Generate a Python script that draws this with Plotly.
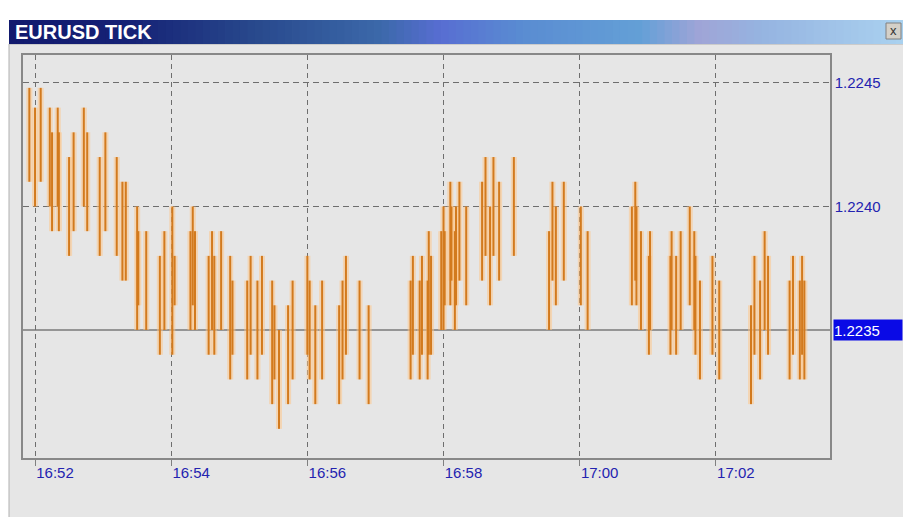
import plotly.graph_objects as go

# ---------------- data ----------------
DATE = "2005-01-05"
tick_times = [
    "16:51:55", "16:52:00", "16:52:05", "16:52:13", "16:52:15", "16:52:20", "16:52:21", "16:52:30",
    "16:52:34", "16:52:43", "16:52:46", "16:52:57", "16:53:02", "16:53:12", "16:53:17", "16:53:20",
    "16:53:30", "16:53:31", "16:53:38", "16:53:50", "16:53:54", "16:54:01", "16:54:03", "16:54:17",
    "16:54:19", "16:54:21", "16:54:33", "16:54:36", "16:54:38", "16:54:44", "16:54:52", "16:54:54",
    "16:55:07", "16:55:10", "16:55:16", "16:55:20", "16:55:29", "16:55:31", "16:55:35", "16:55:43",
    "16:55:47", "16:56:00", "16:56:02", "16:56:07", "16:56:13", "16:56:28", "16:56:31", "16:56:34",
    "16:56:46", "16:56:54", "16:57:31", "16:57:33", "16:57:39", "16:57:41", "16:57:46", "16:57:47",
    "16:57:49", "16:57:58", "16:58:00", "16:58:01", "16:58:06", "16:58:07", "16:58:10", "16:58:11",
    "16:58:14", "16:58:20", "16:58:34", "16:58:37", "16:58:41", "16:58:44", "16:58:49", "16:59:02",
    "16:59:33", "16:59:36", "16:59:39", "16:59:46", "17:00:01", "17:00:07", "17:00:46", "17:00:49",
    "17:00:50", "17:00:54", "17:01:01", "17:01:02", "17:01:20", "17:01:21", "17:01:25", "17:01:29",
    "17:01:37", "17:01:41", "17:01:42", "17:01:46", "17:01:57", "17:02:03", "17:02:31", "17:02:34",
    "17:02:39", "17:02:43", "17:02:46", "17:03:05", "17:03:08", "17:03:14", "17:03:16", "17:03:18",
]
tick_low = [
    1.2241, 1.2240, 1.2241, 1.2240, 1.2239, 1.2240, 1.2239, 1.2238,
    1.2239, 1.2240, 1.2239, 1.2238, 1.2239, 1.2238, 1.2237, 1.2237,
    1.2235, 1.2236, 1.2235, 1.2234, 1.2235, 1.2234, 1.2236, 1.2235,
    1.2236, 1.2235, 1.2234, 1.2235, 1.2234, 1.2235, 1.2233, 1.2234,
    1.2233, 1.2234, 1.2233, 1.2234, 1.2232, 1.2233, 1.2231, 1.2232,
    1.2233, 1.2234, 1.2233, 1.2232, 1.2233, 1.2232, 1.2233, 1.2234,
    1.2233, 1.2232, 1.2233, 1.2234, 1.2233, 1.2234, 1.2233, 1.2234,
    1.2234, 1.2235, 1.2235, 1.2236, 1.2236, 1.2237, 1.2235, 1.2236,
    1.2237, 1.2236, 1.2237, 1.2238, 1.2236, 1.2238, 1.2237, 1.2238,
    1.2235, 1.2237, 1.2236, 1.2237, 1.2236, 1.2235, 1.2236, 1.2237,
    1.2236, 1.2235, 1.2234, 1.2235, 1.2234, 1.2235, 1.2234, 1.2235,
    1.2236, 1.2235, 1.2234, 1.2233, 1.2234, 1.2233, 1.2232, 1.2234,
    1.2233, 1.2235, 1.2234, 1.2233, 1.2234, 1.2233, 1.2234, 1.2233,
]
tick_high = [
    1.22448, 1.2244, 1.22448, 1.2244, 1.2243, 1.2244, 1.2243, 1.2242,
    1.2243, 1.2244, 1.2243, 1.2242, 1.2243, 1.2242, 1.2241, 1.2241,
    1.2240, 1.2239, 1.2239, 1.2238, 1.2239, 1.2240, 1.2238, 1.2239,
    1.2240, 1.2239, 1.2238, 1.2239, 1.2238, 1.2239, 1.2238, 1.2237,
    1.2237, 1.2238, 1.2237, 1.2238, 1.2237, 1.2236, 1.2235, 1.2236,
    1.2237, 1.2238, 1.2237, 1.2236, 1.2237, 1.2236, 1.2237, 1.2238,
    1.2237, 1.2236, 1.2237, 1.2238, 1.2237, 1.2238, 1.2237, 1.2239,
    1.2238, 1.2239, 1.2240, 1.2239, 1.2241, 1.2240, 1.2239, 1.2240,
    1.2241, 1.2240, 1.2241, 1.2242, 1.2240, 1.2242, 1.2241, 1.2242,
    1.2239, 1.2241, 1.2240, 1.2241, 1.2240, 1.2239, 1.2240, 1.2241,
    1.2240, 1.2239, 1.2238, 1.2239, 1.2238, 1.2239, 1.2238, 1.2239,
    1.2240, 1.2239, 1.2238, 1.2237, 1.2238, 1.2237, 1.2236, 1.2238,
    1.2237, 1.2239, 1.2238, 1.2237, 1.2238, 1.2237, 1.2238, 1.2237,
]
x_tick_times = ["16:52", "16:54", "16:56", "16:58", "17:00", "17:02"]
y_tick_values = [1.2240, 1.2245]
current_price = 1.2235
title_text = "EURUSD TICK"

# ---------------- geometry helpers ----------------
W, H = 903, 517
L, R, T, B = 23, 830, 55, 458  # plot frame in pixels


def px_x(p):
    return (p - L) / (R - L)


def px_y(p):
    return (B - p) / (B - T)


# build segment arrays from the data
xs, ys = [], []
for t, lo, hi in zip(tick_times, tick_low, tick_high):
    ts = f"{DATE} {t}"
    xs += [ts, ts, None]
    ys += [lo, hi, None]

fig = go.Figure()
fig.add_trace(go.Scatter(x=xs, y=ys, mode="lines", hoverinfo="skip",
                         line=dict(color="rgba(255,196,130,0.5)", width=6)))
fig.add_trace(go.Scatter(x=xs, y=ys, mode="lines",
                         line=dict(color="#D27A1E", width=2)))

shapes = []
# window body
shapes.append(dict(type="rect", xref="paper", yref="paper", layer="below",
                   x0=px_x(9), x1=px_x(905), y0=px_y(520), y1=px_y(44),
                   fillcolor="#E6E6E6", line=dict(color="#B0B0B0", width=1)))
# title bar gradient
stops = [(9, (18, 26, 110)), (130, (22, 34, 118)), (250, (40, 72, 140)), (380, (60, 105, 170)),
         (440, (88, 110, 210)), (520, (90, 140, 210)), (640, (100, 160, 215)),
         (700, (160, 165, 215)), (760, (150, 180, 225)), (903, (170, 210, 240))]
n = 120
for i in range(n):
    a = 9 + (903 - 9) * i / n
    b = 9 + (903 - 9) * (i + 1) / n
    m = (a + b) / 2
    for j in range(len(stops) - 1):
        if stops[j][0] <= m <= stops[j + 1][0]:
            f = (m - stops[j][0]) / (stops[j + 1][0] - stops[j][0])
            c = tuple(int(stops[j][1][k] + f * (stops[j + 1][1][k] - stops[j][1][k])) for k in range(3))
            break
    shapes.append(dict(type="rect", xref="paper", yref="paper", layer="below",
                       x0=px_x(a), x1=px_x(b) + 0.001, y0=px_y(44), y1=px_y(20),
                       fillcolor=f"rgb{c}", line=dict(width=0)))
# close button
shapes.append(dict(type="rect", xref="paper", yref="paper",
                   x0=px_x(886), x1=px_x(901), y0=px_y(39), y1=px_y(23),
                   fillcolor="#D4D0C8", line=dict(color="#808080", width=1)))
# current price line
shapes.append(dict(type="line", xref="paper", yref="y", x0=0, x1=1,
                   y0=current_price, y1=current_price, layer="below",
                   line=dict(color="#7A7A7A", width=1.5)))

annotations = [
    dict(text=f"<b>{title_text}</b>", xref="paper", yref="paper", x=px_x(13), y=px_y(32),
         xanchor="left", yanchor="middle", showarrow=False,
         font=dict(family="Liberation Sans, Arial", size=20, color="white")),
    dict(text="x", xref="paper", yref="paper", x=px_x(893.5), y=px_y(30.5),
         xanchor="center", yanchor="middle", showarrow=False,
         font=dict(family="Liberation Sans, Arial", size=13, color="#333")),
    dict(text=f"{current_price:.4f}", xref="paper", yref="y", x=px_x(833), y=current_price,
         xanchor="left", yanchor="middle", showarrow=False, bgcolor="#0A0AE6",
         width=68, height=20, align="left", borderpad=0,
         font=dict(family="Liberation Sans, Arial", size=15, color="white")),
]

fig.update_layout(
    width=W, height=H, showlegend=False,
    margin=dict(l=L, r=W - R, t=T, b=H - B, pad=0),
    paper_bgcolor="white", plot_bgcolor="#E4E4E4",
    shapes=shapes, annotations=annotations,
    xaxis=dict(
        type="date",
        range=[f"{DATE} 16:51:49.4", f"{DATE} 17:03:40.6"],
        tickvals=[f"{DATE} {t}" for t in x_tick_times], ticktext=x_tick_times,
        showgrid=True, gridcolor="#6E6E6E", gridwidth=1, griddash="5px,4px",
        ticks="outside", ticklen=6, tickcolor="#808080",
        ticklabelshift=20, ticklabelstandoff=-6,
        tickfont=dict(family="Liberation Sans, Arial", size=15, color="#2323B0"),
        showline=True, mirror=True, linecolor="#888888", linewidth=1.5,
        zeroline=False, fixedrange=True,
    ),
    yaxis=dict(
        side="right", range=[1.222982, 1.224613],
        tickvals=y_tick_values, ticktext=[f"{v:.4f}" for v in y_tick_values],
        showgrid=True, gridcolor="#6E6E6E", gridwidth=1, griddash="6px,4px",
        ticks="", ticklabelstandoff=0,
        tickfont=dict(family="Liberation Sans, Arial", size=15, color="#2323B0"),
        showline=True, mirror=True, linecolor="#888888", linewidth=1.5,
        zeroline=False, fixedrange=True,
    ),
)

fig.write_html("out.html", config={"displayModeBar": False},
               post_script="document.body.style.margin='0px';document.body.style.overflow='hidden';")
